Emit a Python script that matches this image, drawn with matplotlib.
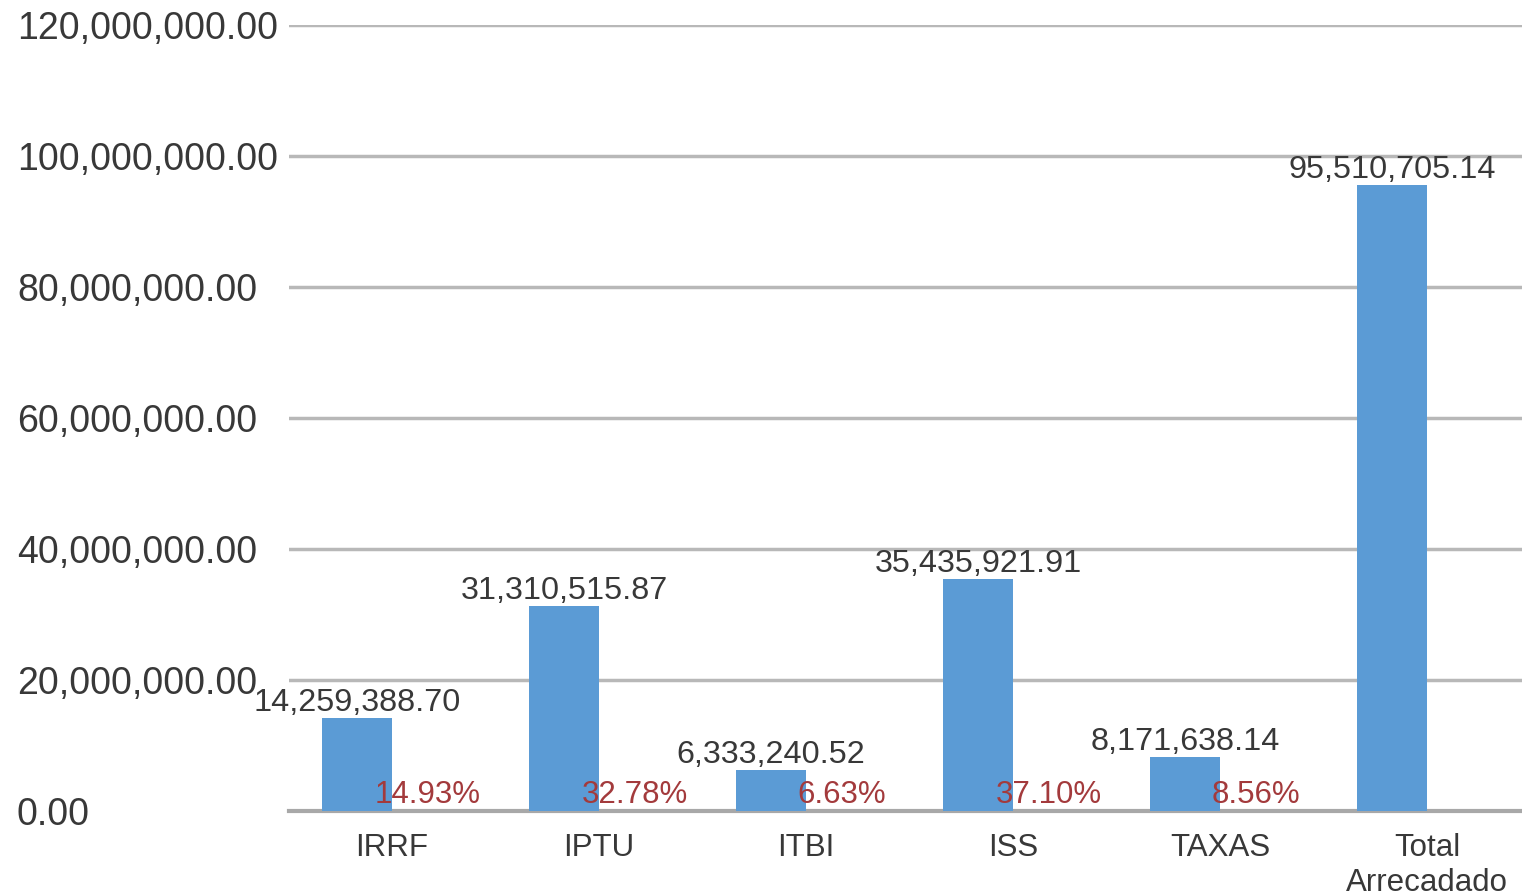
import matplotlib.pyplot as plt
from matplotlib.ticker import FuncFormatter

# Dados
categorias = ['IRRF', 'IPTU', 'ITBI', 'ISS', 'TAXAS', 'Total\nArrecadado']
valores = [14259388.70, 31310515.87, 6333240.52, 35435921.91, 8171638.14, 95510705.14]
percentuais = ['14.93%', '32.78%', '6.63%', '37.10%', '8.56%', None]

plt.rcParams['font.family'] = ['Liberation Sans', 'DejaVu Sans']

COR_BARRA = '#5b9bd5'
COR_PERC = '#a33a3c'
COR_TEXTO = '#383838'
COR_GRADE = '#b8b8b8'

fig = plt.figure(figsize=(15.22, 8.96), dpi=100)
ax = fig.add_axes([288.5 / 1522, 85 / 896, 1242 / 1522, 786 / 896])

x = list(range(len(categorias)))
larg = 0.338
pos_barra = [i - larg / 2 for i in x]
barras = ax.bar(pos_barra, valores, width=larg, color=COR_BARRA, zorder=3)

for b, v in zip(barras, valores):
    ax.annotate(f'{v:,.2f}', (b.get_x() + b.get_width() / 2, v),
                xytext=(0, 0), textcoords='offset points',
                ha='center', va='bottom', fontsize=23.3, color=COR_TEXTO, zorder=4)

for i, p in zip(x, percentuais):
    if p is None:
        continue
    ax.annotate(p, (i + 0.174, 0), xytext=(0, 1), textcoords='offset points',
                ha='center', va='bottom', fontsize=22.5, color=COR_PERC, zorder=5)

ax.set_xlim(-0.5, len(categorias) - 0.5)
ax.set_ylim(0, 120000000)
ax.set_yticks(range(0, 120000001, 20000000))
ax.yaxis.set_major_formatter(FuncFormatter(lambda v, p: f'{v:,.2f}'))
ax.set_xticks(x)
ax.set_xticklabels(categorias, fontsize=22.5, color=COR_TEXTO, linespacing=1.2)
# rótulos do eixo y alinhados à esquerda, começando perto da borda da figura
ax.tick_params(axis='y', labelsize=27, labelcolor=COR_TEXTO, length=0, pad=195.5)
for rot in ax.get_yticklabels():
    rot.set_horizontalalignment('left')
ax.tick_params(axis='x', length=0, pad=16)

ax.grid(axis='y', color=COR_GRADE, linewidth=2.5, zorder=0)
for lado in ['top', 'right', 'left']:
    ax.spines[lado].set_visible(False)
ax.spines['bottom'].set_color('#a8a8a8')
ax.spines['bottom'].set_linewidth(3)
ax.spines['bottom'].set_zorder(2)

fig.savefig('out.png', dpi=100)
